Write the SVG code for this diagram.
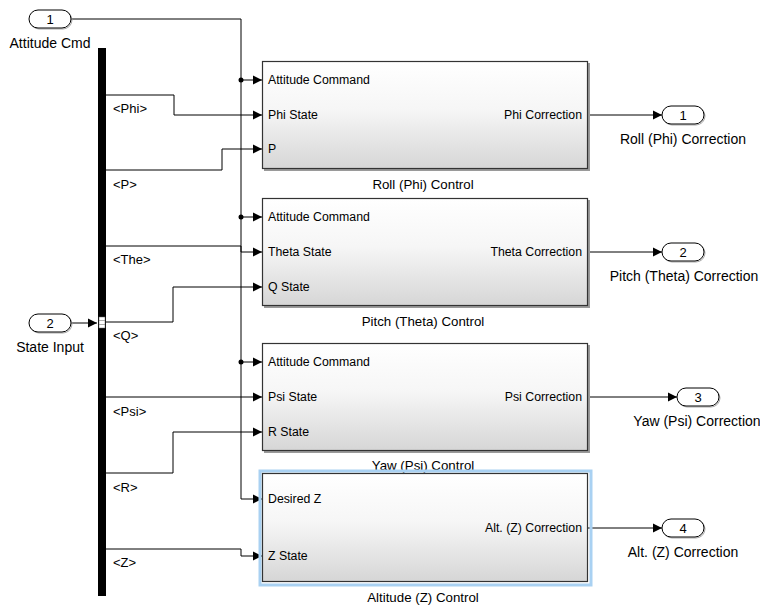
<svg xmlns="http://www.w3.org/2000/svg" width="760" height="607" viewBox="0 0 760 607">
<style>
text{font-family:"Liberation Sans",Arial,Helvetica,sans-serif;fill:#000}
.pl{font-size:12.3px}
.bl{font-size:13.3px;text-anchor:middle}
.ol{font-size:14px;text-anchor:middle}
.num{font-size:13px;text-anchor:middle}
.bus{font-size:13px}
.pill{fill:#fff;stroke:#000;stroke-width:1}
.psh{fill:none;stroke:#aaa;stroke-width:1}
.blk{fill:url(#g);stroke:#333;stroke-width:1.2}
.sh{fill:#9a9a9a}
.w{fill:none;stroke:#000;stroke-width:1}
</style>
<defs>
<linearGradient id="g" x1="0" y1="0" x2="0" y2="1">
<stop offset="0" stop-color="#ffffff"/>
<stop offset="0.45" stop-color="#f6f6f6"/>
<stop offset="1" stop-color="#d6d6d6"/>
</linearGradient>
<marker id="a" markerWidth="10" markerHeight="10" refX="9" refY="5" orient="auto" markerUnits="userSpaceOnUse">
<path d="M0,0.5 L9,5 L0,9.5 Z" fill="#000"/>
</marker>
</defs>

<g id="connectors">
<path class="w" d="M71,19 H241 V499 H262" marker-end="url(#a)"/>
<path class="w" d="M241,80 H262" marker-end="url(#a)"/>
<path class="w" d="M241,217 H262" marker-end="url(#a)"/>
<path class="w" d="M241,362 H262" marker-end="url(#a)"/>
<circle cx="241" cy="80" r="2.5" fill="#000"/>
<circle cx="241" cy="217" r="2.5" fill="#000"/>
<circle cx="241" cy="362" r="2.5" fill="#000"/>
<path class="w" d="M106,95 H174 V115 H262" marker-end="url(#a)"/>
<path class="w" d="M106,170 H222 V149 H262" marker-end="url(#a)"/>
<path class="w" d="M106,246 H241 V252 H262" marker-end="url(#a)"/>
<path class="w" d="M106,322 H173 V287 H262" marker-end="url(#a)"/>
<path class="w" d="M106,397 H262" marker-end="url(#a)"/>
<path class="w" d="M106,473 H173 V432 H262" marker-end="url(#a)"/>
<path class="w" d="M106,549 H241 V556 H262" marker-end="url(#a)"/>
<path class="w" d="M71,323 H97" marker-end="url(#a)"/>
<path class="w" d="M588,115 H662" marker-end="url(#a)"/>
<path class="w" d="M588,252 H662" marker-end="url(#a)"/>
<path class="w" d="M588,397 H677" marker-end="url(#a)"/>
<path class="w" d="M588,528 H662" marker-end="url(#a)"/>
</g>

<g id="in1">
<rect class="psh" x="30" y="11" width="42" height="18" rx="9"/>
<rect class="pill" x="29" y="10" width="42" height="18" rx="9"/>
<text x="50" y="23.5" class="num">1</text>
<text x="50" y="48" class="ol">Attitude Cmd</text>
</g>

<g id="in2">
<rect class="psh" x="30" y="315" width="42" height="18" rx="9"/>
<rect class="pill" x="29" y="314" width="42" height="18" rx="9"/>
<text x="50" y="327.5" class="num">2</text>
<text x="50" y="352" class="ol">State Input</text>
</g>

<g id="bus">
<rect x="98" y="48" width="8" height="548" fill="#000"/>
<rect x="99" y="317" width="6" height="11" fill="#fff" stroke="#666" stroke-width="0.5"/>
<line x1="99" y1="320.5" x2="105" y2="320.5" stroke="#888" stroke-width="0.7"/>
<line x1="99" y1="324.5" x2="105" y2="324.5" stroke="#888" stroke-width="0.7"/>
<text x="113" y="113" class="bus">&lt;Phi&gt;</text>
<text x="113" y="189" class="bus">&lt;P&gt;</text>
<text x="113" y="264" class="bus">&lt;The&gt;</text>
<text x="113" y="340" class="bus">&lt;Q&gt;</text>
<text x="113" y="416" class="bus">&lt;Psi&gt;</text>
<text x="113" y="492" class="bus">&lt;R&gt;</text>
<text x="113" y="567" class="bus">&lt;Z&gt;</text>
</g>

<g id="roll">
<rect class="sh" x="264" y="63" width="326" height="108"/>
<rect class="blk" x="262.5" y="61.5" width="325" height="107"/>
<text x="268" y="84" class="pl">Attitude Command</text>
<text x="268" y="119" class="pl">Phi State</text>
<text x="268" y="153" class="pl">P</text>
<text x="582" y="119" class="pl" text-anchor="end">Phi Correction</text>
<text x="423" y="189" class="bl">Roll (Phi) Control</text>
</g>

<g id="pitch">
<rect class="sh" x="264" y="200" width="326" height="108"/>
<rect class="blk" x="262.5" y="198.5" width="325" height="107"/>
<text x="268" y="221" class="pl">Attitude Command</text>
<text x="268" y="256" class="pl">Theta State</text>
<text x="268" y="291" class="pl">Q State</text>
<text x="582" y="256" class="pl" text-anchor="end">Theta Correction</text>
<text x="423" y="326" class="bl">Pitch (Theta) Control</text>
</g>

<g id="yaw">
<rect class="sh" x="264" y="345" width="326" height="108"/>
<rect class="blk" x="262.5" y="343.5" width="325" height="107"/>
<text x="268" y="366" class="pl">Attitude Command</text>
<text x="268" y="401" class="pl">Psi State</text>
<text x="268" y="436" class="pl">R State</text>
<text x="582" y="401" class="pl" text-anchor="end">Psi Correction</text>
<text x="423" y="470" class="bl">Yaw (Psi) Control</text>
</g>

<g id="alt">
<rect x="260" y="471" width="331" height="114" fill="none" stroke="#a9d1f2" stroke-width="3"/>
<rect class="blk" x="262.5" y="473.5" width="325" height="108"/>
<text x="268" y="503" class="pl">Desired Z</text>
<text x="268" y="560" class="pl">Z State</text>
<text x="582" y="532" class="pl" text-anchor="end">Alt. (Z) Correction</text>
<text x="423" y="602" class="bl">Altitude (Z) Control</text>
</g>

<g id="out1">
<rect class="psh" x="663" y="107" width="42" height="18" rx="9"/>
<rect class="pill" x="662" y="106" width="42" height="18" rx="9"/>
<text x="683" y="119.5" class="num">1</text>
<text x="683" y="144" class="ol">Roll (Phi) Correction</text>
</g>
<g id="out2">
<rect class="psh" x="663" y="244" width="42" height="18" rx="9"/>
<rect class="pill" x="662" y="243" width="42" height="18" rx="9"/>
<text x="683" y="256.5" class="num">2</text>
<text x="684" y="281" class="ol">Pitch (Theta) Correction</text>
</g>
<g id="out3">
<rect class="psh" x="678" y="389" width="42" height="18" rx="9"/>
<rect class="pill" x="677" y="388" width="42" height="18" rx="9"/>
<text x="698" y="401.5" class="num">3</text>
<text x="697" y="426" class="ol">Yaw (Psi) Correction</text>
</g>
<g id="out4">
<rect class="psh" x="663" y="520" width="42" height="18" rx="9"/>
<rect class="pill" x="662" y="519" width="42" height="18" rx="9"/>
<text x="683" y="532.5" class="num">4</text>
<text x="683" y="557" class="ol">Alt. (Z) Correction</text>
</g>
</svg>
